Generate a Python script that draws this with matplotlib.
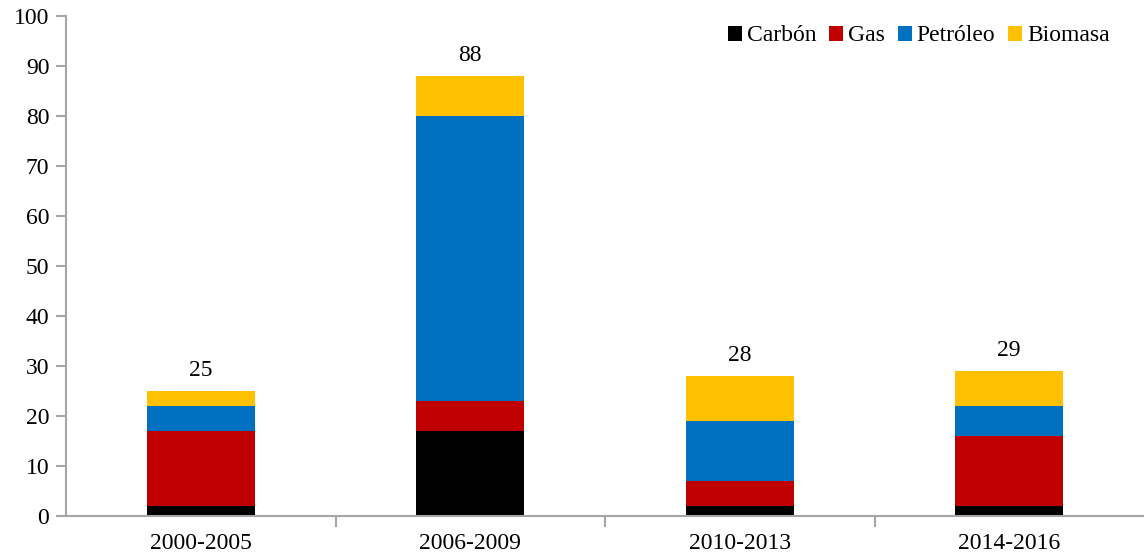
import numpy as np
import matplotlib.pyplot as plt

# periodos y valores por fuente
periodos = ['2000-2005', '2006-2009', '2010-2013', '2014-2016']
carbon = [2, 17, 2, 2]
gas = [15, 6, 5, 14]
petroleo = [5, 57, 12, 6]
biomasa = [3, 8, 9, 7]
totales = [25, 88, 28, 29]

series = [('Carbón', carbon, '#000000'),
          ('Gas', gas, '#C00000'),
          ('Petróleo', petroleo, '#0070C0'),
          ('Biomasa', biomasa, '#FFC000')]

plt.rcParams['font.family'] = ['Liberation Serif', 'DejaVu Serif']
plt.rcParams['font.size'] = 17

fig = plt.figure(figsize=(11.44, 5.56), dpi=100)
ax = fig.add_axes([66/1144, 40/556, 1 - 66/1144, 500/556])

x = np.arange(len(periodos))
bottom = np.zeros(len(periodos))
for name, vals, col in series:
    ax.bar(x, vals, width=0.4, bottom=bottom, color=col, label=name)
    bottom += np.array(vals)

for xi, t in zip(x, totales):
    ax.annotate(str(t), (xi, t), xytext=(0, 7), textcoords='offset points',
                ha='center', va='bottom')

ax.set_xlim(-0.5, len(periodos) - 0.5)
ax.set_ylim(0, 100)
ax.set_yticks(np.arange(0, 101, 10))
ax.set_xticks(x)
ax.set_xticklabels(periodos)
ax.set_xticks(x[:-1] + 0.5, minor=True)
ax.tick_params(axis='x', which='major', length=0, pad=12)
ax.tick_params(axis='x', which='minor', length=8, width=1.5, color='#A6A6A6')
ax.tick_params(axis='y', length=7, width=1.5, color='#A6A6A6', pad=5)

for s in ['top', 'right']:
    ax.spines[s].set_visible(False)
for s in ['left', 'bottom']:
    ax.spines[s].set_color('#A6A6A6')
    ax.spines[s].set_linewidth(1.5)

leg = ax.legend(loc='upper right', ncol=4, frameon=False, handlelength=0.6,
                handleheight=0.6, handletextpad=0.2, columnspacing=0.55,
                borderaxespad=0.0, bbox_to_anchor=(0.977, 1.0))

fig.savefig('out.png', dpi=100)
